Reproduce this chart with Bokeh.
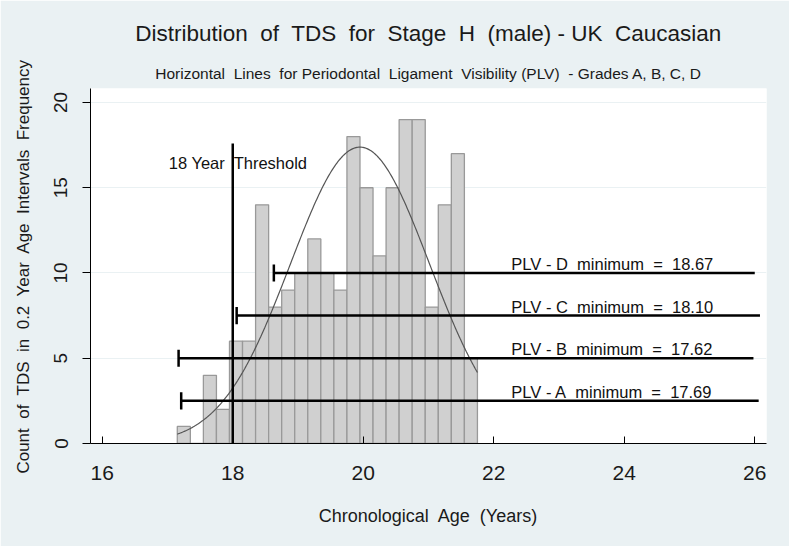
import numpy as np
from bokeh.plotting import figure
from bokeh.models import Range1d, Title, FixedTicker, ColumnDataSource
from bokeh.core.properties import value
from bokeh.embed import file_html
from bokeh.resources import INLINE

# ---------------- data ----------------
bin_start = 17.15
bin_width = 0.2
counts = [1, 0, 4, 2, 6, 6, 14, 8, 9, 10, 12, 10, 9, 18, 15, 11, 15, 19, 19, 8, 14, 17, 5]

normal_mean = 19.95
normal_sd = 1.065

threshold_age = 18.0
threshold_top = 17.6

plv_grades = ["A", "B", "C", "D"]
plv_minimum_text = ["17.69", "17.62", "18.10", "18.67"]
plv_level = [2.5, 5.0, 7.5, 10.0]
plv_line_start = [17.21, 17.17, 18.06, 18.63]
plv_line_end = [26.06, 25.98, 26.08, 26.0]

x_ticks = [16, 18, 20, 22, 24, 26]
y_ticks = [0, 5, 10, 15, 20]

BG = "#EAF1F3"
FONT = "Liberation Sans"
DS = "\u00a0 "   # Stata-style double space between words

title_text = DS.join(["Distribution", "of", "TDS", "for", "Stage", "H", "(male) - UK", "Caucasian"])
subtitle_text = DS.join(["Horizontal", "Lines", "for Periodontal", "Ligament", "Visibility (PLV)", "- Grades A, B, C, D"])
x_title = DS.join(["Chronological", "Age", "(Years)"])
y_title = DS.join(["Count", "of", "TDS", "in", "0.2", "Year", "Age", "Intervals", "Frequency"])

# ---------------- derived ----------------
n = len(counts)
lefts = [bin_start + i * bin_width for i in range(n)]
rights = [l + bin_width for l in lefts]
total = sum(counts)
xs = np.linspace(bin_start, bin_start + n * bin_width, 300)
ys = total * bin_width / (normal_sd * np.sqrt(2 * np.pi)) * np.exp(-0.5 * ((xs - normal_mean) / normal_sd) ** 2)

p = figure(width=789, height=546, output_backend="svg", toolbar_location=None,
           x_range=Range1d(15.82, 26.18), y_range=Range1d(0, 20.82),
           min_border_left=90, min_border_right=23, min_border_top=88, min_border_bottom=103,
           background_fill_color="white", border_fill_color=BG, outline_line_color=None)

sub = Title(text=subtitle_text, align="center", text_font_size="15.5px", text_font=FONT,
            text_font_style="normal", text_color="#1a1a1a", standoff=14)
p.add_layout(sub, "above")
ttl = Title(text=title_text, align="center", text_font_size="22.5px", text_font=FONT,
            text_font_style="normal", text_color="#1a1a1a", standoff=19)
p.add_layout(ttl, "above")

# grid
p.xgrid.grid_line_color = None
p.ygrid.grid_line_color = BG
p.ygrid.ticker = FixedTicker(ticks=y_ticks)

# axes
p.xaxis.ticker = FixedTicker(ticks=x_ticks)
p.yaxis.ticker = FixedTicker(ticks=y_ticks)
for ax in (p.xaxis[0], p.yaxis[0]):
    ax.axis_line_color = "black"
    ax.major_tick_line_color = "black"
    ax.minor_tick_line_color = None
    ax.major_label_text_font = FONT
    ax.major_label_text_color = "#1a1a1a"
    ax.axis_label_text_font = FONT
    ax.axis_label_text_font_style = "normal"
    ax.axis_label_text_color = "#1a1a1a"
p.xaxis.major_tick_in = 7
p.xaxis.major_tick_out = 0
p.xaxis.major_label_text_font_size = "21px"
p.xaxis.major_label_standoff = 22
p.xaxis.axis_label = x_title
p.xaxis.axis_label_text_font_size = "18px"
p.xaxis.axis_label_standoff = 23

p.yaxis.major_tick_in = 0
p.yaxis.major_tick_out = 8
p.yaxis.major_label_orientation = "vertical"
p.yaxis.major_label_text_font_size = "19px"
p.yaxis.major_label_standoff = 15
p.yaxis.axis_label = y_title
p.yaxis.axis_label_text_font_size = "17px"
p.yaxis.axis_label_standoff = 19

# histogram
p.quad(left=lefts, right=rights, top=counts, bottom=0,
       fill_color="#D0D0D0", line_color="#999999", line_width=1.3)

# normal curve
p.line(xs, ys, line_color="#555555", line_width=1.2)

# threshold line
p.segment(x0=[threshold_age], y0=[0], x1=[threshold_age], y1=[threshold_top],
          line_color="black", line_width=2.5)
p.text(x=[17.02], y=[16.45], text=["18 Year" + DS + "Threshold"], text_font=value(FONT),
       text_font_size="16.5px", text_baseline="middle", text_align="left", text_color="#111111")

# PLV lines
src = ColumnDataSource(dict(
    y=plv_level, x0=plv_line_start, x1=plv_line_end,
    cap_lo=[v - 0.5 for v in plv_level], cap_hi=[v + 0.5 for v in plv_level],
    label=[f"PLV - {g}{DS}minimum{DS}={DS}{m}" for g, m in zip(plv_grades, plv_minimum_text)],
    lx=[22.27] * len(plv_level)))
p.segment(x0="x0", y0="y", x1="x1", y1="y", source=src, line_color="black", line_width=2.5)
p.segment(x0="x0", y0="cap_lo", x1="x0", y1="cap_hi", source=src, line_color="black", line_width=2.5)
p.text(x="lx", y="y", text="label", source=src, text_font=value(FONT),
       text_font_size="16.5px", text_baseline="alphabetic", text_align="left",
       y_offset=-9, text_color="#111111")

open("out.html", "w").write(file_html(p, INLINE))
